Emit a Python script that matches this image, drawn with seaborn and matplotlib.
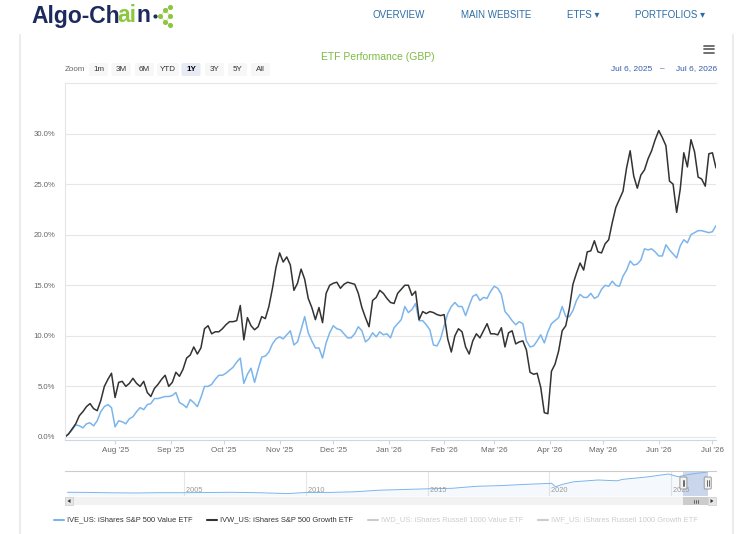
import matplotlib
matplotlib.use("Agg")
import matplotlib.pyplot as plt
import matplotlib.dates as mdates
import matplotlib.patches as mpatches
from matplotlib.ticker import FuncFormatter
import seaborn as sns
import pandas as pd

sns.set_theme(style="white")
plt.rcParams["font.family"] = ["Liberation Sans", "DejaVu Sans"]

W, H = 750, 534

# ---- data ----
dates = pd.date_range("2025-07-04", periods=183, freq="2D")

ive = [0.0, 0.3, 0.7, 1.2, 1.1, 0.9, 1.3, 1.4, 1.1, 1.6,
       2.5, 3.0, 3.2, 2.9, 1.0, 1.6, 1.5, 1.3, 1.8, 2.0,
       2.5, 2.9, 2.7, 3.2, 3.3, 3.8, 3.8, 3.9, 4.0, 4.0,
       4.1, 4.4, 3.4, 3.2, 2.9, 3.7, 3.4, 3.0, 3.9, 5.0,
       5.0, 5.2, 5.7, 6.1, 6.1, 6.3, 6.6, 6.9, 7.4, 7.8,
       5.3, 6.2, 6.8, 5.4, 6.7, 7.9, 8.0, 8.4, 9.2, 9.7,
       9.9, 9.7, 10.1, 10.5, 9.1, 9.4, 10.6, 11.9, 10.3, 9.5,
       8.8, 8.8, 7.8, 9.3, 10.3, 11.0, 10.7, 10.6, 10.2, 9.8,
       9.8, 10.2, 10.9, 10.5, 9.4, 9.7, 10.3, 9.9, 10.4, 10.1,
       10.2, 9.8, 10.8, 11.2, 11.6, 12.9, 12.3, 12.6, 13.2, 11.5,
       11.5, 11.1, 10.6, 9.1, 9.0, 9.7, 11.0, 12.2, 12.9, 13.3,
       12.9, 12.9, 12.0, 13.0, 13.9, 14.1, 13.5, 13.8, 13.7, 14.4,
       14.9, 14.7, 14.1, 12.4, 12.0, 11.5, 11.1, 11.4, 11.2, 9.5,
       8.9, 9.0, 9.5, 10.1, 9.3, 10.4, 11.2, 11.5, 11.8, 12.9,
       11.9, 11.9, 12.5, 13.5, 14.1, 13.8, 13.8, 14.2, 13.7, 13.9,
       14.6, 15.0, 14.9, 15.4, 15.0, 14.9, 15.9, 16.5, 17.4, 17.0,
       17.1, 17.5, 18.6, 18.5, 18.6, 18.3, 17.9, 17.9, 19.0, 18.5,
       18.1, 17.7, 18.9, 19.5, 19.2, 20.0, 20.2, 20.4, 20.4, 20.3,
       20.2, 20.3, 20.9]

ivw = [0.0, 0.3, 0.8, 1.3, 2.1, 2.5, 3.0, 3.3, 2.8, 2.6,
       3.6, 5.0, 5.7, 6.3, 3.9, 5.4, 5.5, 5.0, 5.3, 5.8,
       5.3, 5.0, 5.5, 4.4, 4.0, 4.8, 5.2, 5.7, 6.1, 5.0,
       5.4, 6.4, 6.0, 6.7, 7.8, 8.1, 8.9, 8.2, 8.8, 10.7,
       11.0, 10.2, 10.4, 10.4, 10.7, 11.1, 11.4, 11.4, 11.5, 13.0,
       9.6, 11.8, 11.0, 10.6, 10.9, 11.9, 11.7, 12.9, 14.7, 16.8,
       18.2, 17.3, 17.8, 17.0, 14.5, 15.2, 16.6, 15.6, 13.7, 12.8,
       11.6, 12.8, 11.3, 14.2, 15.0, 15.2, 15.3, 14.7, 15.1, 15.3,
       15.2, 15.1, 14.2, 12.8, 11.8, 10.9, 13.5, 13.8, 14.5, 14.2,
       13.7, 13.3, 13.2, 14.2, 14.6, 15.0, 15.0, 14.0, 14.4, 11.6,
       12.4, 12.2, 12.4, 12.3, 12.1, 12.0, 12.1, 9.7, 8.4, 10.0,
       10.7, 10.4, 8.9, 8.2, 9.5, 10.2, 9.8, 10.5, 11.2, 10.2,
       10.2, 10.1, 10.8, 8.9, 10.3, 10.5, 9.2, 9.4, 9.5, 8.6,
       6.4, 6.2, 6.3, 4.9, 2.4, 2.3, 6.5, 7.2, 8.5, 10.5,
       11.0, 12.7, 15.1, 16.2, 17.2, 16.5, 18.3, 18.4, 19.4, 18.3,
       18.2, 19.1, 19.5, 21.2, 22.7, 23.5, 24.3, 26.6, 28.3, 25.8,
       24.6, 25.9, 26.4, 27.5, 28.3, 29.4, 30.3, 29.6, 28.8, 25.3,
       25.0, 22.2, 24.5, 28.1, 26.7, 29.4, 28.2, 25.7, 25.5, 24.8,
       28.0, 28.1, 26.6]

# navigator: long history of the first series (arbitrary level units)
nav_years = [2000.2, 2001, 2002, 2003, 2004, 2005, 2006, 2007, 2008, 2009,
             2009.3, 2010, 2011, 2012, 2013, 2014, 2015, 2016, 2017, 2018,
             2019, 2020.1, 2020.25, 2020.6, 2021, 2022, 2022.8, 2023, 2024, 2024.9,
             2025.3, 2025.6, 2026.0, 2026.5]
nav_level = [3.7, 3.6, 3.2, 3.0, 3.3, 3.3, 3.5, 3.7, 3.3, 2.6,
             2.5, 3.5, 3.6, 4.2, 5.8, 6.5, 7.2, 7.7, 9.7, 10.4,
             11.6, 12.7, 9.3, 12.0, 14.2, 16.0, 15.2, 16.6, 19.0, 22.0,
             19.2, 21.0, 22.5, 24.0]
nav_tick_years = [2005, 2010, 2015, 2020, 2025]

series_names = ["IVE_US", "IVW_US"]
series_colors = {"IVE_US": "#7cb5ec", "IVW_US": "#333333"}
legend_labels = ["IVE_US: iShares S&P 500 Value ETF", "IVW_US: iShares S&P 500 Growth ETF",
                 "IWD_US: iShares Russell 1000 Value ETF", "IWF_US: iShares Russell 1000 Growth ETF"]
zoom_buttons = ["1m", "3M", "6M", "YTD", "1Y", "3Y", "5Y", "All"]
nav_links = ["OVERVIEW", "MAIN WEBSITE", "ETFS ▾", "PORTFOLIOS ▾"]

df = pd.DataFrame({
    "date": list(dates) * 2,
    "value": ive + ivw,
    "series": [series_names[0]] * len(ive) + [series_names[1]] * len(ivw),
})

fig = plt.figure(figsize=(W / 100, H / 100), dpi=100)
fig.patch.set_facecolor("white")


def fx(px):
    return px / W


def fy(py):
    return 1 - py / H


# ---- main chart ----
ax = fig.add_axes([fx(65), fy(440), 651 / W, 357 / H])
sns.lineplot(data=df, x="date", y="value", hue="series", palette=series_colors,
             linewidth=1.1, legend=False, ax=ax)
ax.set_xlim(dates[0], dates[-1])
ax.set_ylim(-0.3, 35)
ax.set_yticks([0, 5, 10, 15, 20, 25, 30])
ax.yaxis.set_major_formatter(FuncFormatter(lambda v, p: f"{v:.1f}%"))
ax.xaxis.set_major_locator(mdates.MonthLocator(bymonthday=1))
ax.xaxis.set_major_formatter(mdates.DateFormatter("%b '%y"))
ax.grid(False)
ax.yaxis.grid(True, color="#e6e6e6", linewidth=0.8)
ax.set_xlabel("")
ax.set_ylabel("")
for side in ["top", "left"]:
    ax.spines[side].set_color("#e6e6e6")
    ax.spines[side].set_linewidth(0.8)
ax.spines["right"].set_visible(False)
ax.spines["bottom"].set_color("#ccd6eb")
ax.spines["bottom"].set_linewidth(0.8)
ax.tick_params(axis="y", length=0, labelsize=5.6, labelcolor="#666666", pad=7)
ax.tick_params(axis="x", bottom=True, length=3, width=0.8, color="#ccd6eb",
               labelsize=5.8, labelcolor="#666666", pad=2)

# ---- navigator ----
nav = fig.add_axes([fx(65), fy(496), 651 / W, 25 / H])
sns.lineplot(x=nav_years, y=nav_level, color="#7cb5ec", linewidth=0.7, ax=nav)
nav.fill_between(nav_years, nav_level, 0, color="#7cb5ec", alpha=0.07, lw=0)
nav.set_xlim(2000.1, 2026.85)
nav.set_ylim(0, 25)
nav.set_xticks(nav_tick_years)
nav.set_yticks([])
nav.tick_params(axis="x", length=0, labelbottom=False)
nav.grid(False)
nav.xaxis.grid(True, color="#e6e6e6", linewidth=0.8)
for side in ["left", "right", "bottom"]:
    nav.spines[side].set_visible(False)
nav.spines["top"].set_color("#cccccc")
nav.spines["top"].set_linewidth(0.8)
sel0, sel1 = 2025.51, 2026.51
nav.axvspan(sel0, sel1, color="#6685c2", alpha=0.3, lw=0)
for yr in nav_tick_years:
    nav.text(yr, 0.22, f" {yr}", transform=nav.get_xaxis_transform(), fontsize=5.3,
             color="#999999", ha="left", va="center")

# ---- overlay in pixel coordinates for page furniture ----
ov = fig.add_axes([0, 0, 1, 1], zorder=5)
ov.set_xlim(0, W)
ov.set_ylim(H, 0)
ov.axis("off")
ov.patch.set_alpha(0)


def px_of(yr):
    disp = nav.transData.transform((yr, 0))
    return fig.transFigure.inverted().transform(disp)[0] * W


# card edges
ov.plot([20, 20], [35, H], color="#ececec", lw=1.5)
ov.plot([733, 733], [35, H], color="#ececec", lw=1.5)

# logo: three pieces placed one after another using their drawn extents
fig.canvas.draw()
rend = fig.canvas.get_renderer()
logo_kw = dict(fontsize=16.5, fontweight="bold", ha="left", va="center")
x_next = 31
for part, col, tuck in [("Algo-Ch", "#1d2a5e", 1.8), ("ai", "#8dc63f", 0.4), ("n", "#1d2a5e", 0.0)]:
    t = ov.text(x_next, 16, part, color=col, **logo_kw)
    bb = t.get_window_extent(rend)
    right_px = fig.transFigure.inverted().transform((bb.x1, 0))[0] * W
    x_next = right_px - tuck
end_x = x_next
ov.plot([end_x + 5], [16], "o", color="#1d2a5e", ms=2)
icon = [(end_x + 10, 16), (end_x + 15, 10), (end_x + 15, 22), (end_x + 20, 7),
        (end_x + 20, 16), (end_x + 20, 25)]
for a, b in [(0, 1), (0, 2), (1, 3), (1, 4), (2, 4), (2, 5)]:
    ov.plot([icon[a][0], icon[b][0]], [icon[a][1], icon[b][1]], color="#c6e2a2", lw=0.6)
ov.scatter([p[0] for p in icon], [p[1] for p in icon], s=7, color="#8dc63f", zorder=6)

# top navigation
for lbl, cx in zip(nav_links, [399, 496, 583, 670]):
    ov.text(cx, 15, lbl, fontsize=7, color="#2e6da4", ha="center", va="center")

# title and menu
ov.text(378, 57, "ETF Performance (GBP)", fontsize=7.5, color="#7dbb42", ha="center", va="center")
for yy in [45.5, 49, 52.5]:
    ov.plot([704, 714], [yy, yy], color="#666666", lw=1.3)

# range selector
ov.text(75, 69.5, "Zoom", fontsize=5.8, color="#666666", ha="center", va="center")
for lbl, cx in zip(zoom_buttons, [98.5, 121, 144.5, 168, 191, 214.5, 237.5, 260.5]):
    w = 22 if lbl == "YTD" else 19
    sel = lbl == "1Y"
    ov.add_patch(mpatches.FancyBboxPatch((cx - w / 2, 63), w, 13,
                                         boxstyle="round,pad=0,rounding_size=2",
                                         fc="#e6ebf5" if sel else "#f7f7f7", ec="none"))
    ov.text(cx, 69.5, lbl, fontsize=5.8, color="#000000" if sel else "#333333",
            fontweight="bold" if sel else "normal", ha="center", va="center")
ov.text(632, 69, "Jul 6, 2025", fontsize=6, color="#335cad", ha="center", va="center")
ov.text(662, 69, "\u2013", fontsize=6, color="#335cad", ha="center", va="center")
ov.text(697, 69, "Jul 6, 2026", fontsize=6, color="#335cad", ha="center", va="center")

# navigator handles
h0, h1 = px_of(sel0), px_of(sel1)
for hx in [h0, h1]:
    ov.add_patch(mpatches.FancyBboxPatch((hx - 3.5, 477), 7, 12,
                                         boxstyle="round,pad=0,rounding_size=1",
                                         fc="#f2f2f2", ec="#999999", lw=0.7))
    ov.plot([hx - 0.8, hx - 0.8], [480, 486], color="#333333", lw=0.5)
    ov.plot([hx + 0.8, hx + 0.8], [480, 486], color="#333333", lw=0.5)

# scrollbar
ov.add_patch(mpatches.Rectangle((65, 497), 651, 8, fc="#f2f2f2", ec="none"))
ov.add_patch(mpatches.Rectangle((65, 497), 8, 8, fc="#e6e6e6", ec="#cccccc", lw=0.5))
ov.add_patch(mpatches.Rectangle((708, 497), 8, 8, fc="#e6e6e6", ec="#cccccc", lw=0.5))
ov.add_patch(mpatches.Polygon([[70.5, 499], [70.5, 503], [67.5, 501]], fc="#333333", ec="none"))
ov.add_patch(mpatches.Polygon([[710.5, 499], [710.5, 503], [713.5, 501]], fc="#333333", ec="none"))
ov.add_patch(mpatches.Rectangle((h0, 497), h1 - h0, 8, fc="#cccccc", ec="none"))
mid = (h0 + h1) / 2
for dx in [-2, 0, 2]:
    ov.plot([mid + dx, mid + dx], [499.5, 502.5], color="#333333", lw=0.5)

# legend
legend_pos = [(54, 67), (207, 220), (368, 381), (538, 551)]
legend_cols = ["#7cb5ec", "#333333", "#cccccc", "#cccccc"]
legend_txt = ["#333333", "#333333", "#cccccc", "#cccccc"]
for (lx, tx), lbl, lc, tc in zip(legend_pos, legend_labels, legend_cols, legend_txt):
    ov.plot([lx, lx + 10], [520, 520], color=lc, lw=1.5)
    ov.text(tx, 520, lbl, fontsize=5.4, color=tc, ha="left", va="center")

fig.savefig("out.png", dpi=100)
